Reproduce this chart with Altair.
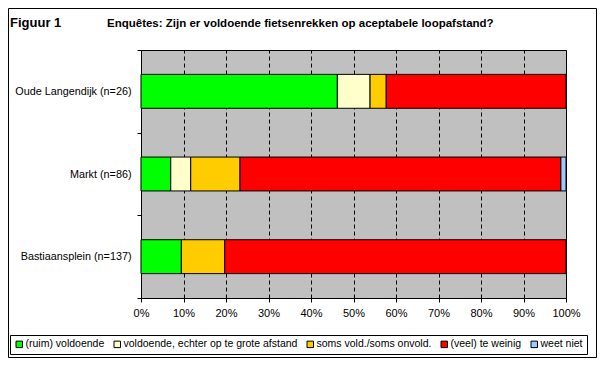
import altair as alt
import pandas as pd

# ---- data ----
locations = ["Oude Langendijk (n=26)", "Markt (n=86)", "Bastiaansplein (n=137)"]
answers = [
    "(ruim) voldoende",
    "voldoende, echter op te grote afstand",
    "soms vold./soms onvold.",
    "(veel) te weinig",
    "weet niet",
]
colors = ["#00FF00", "#FFFFCC", "#FFCC00", "#FF0000", "#99CCFF"]
pct_oude = [46.2, 7.7, 3.8, 42.3, 0.0]
pct_markt = [7.0, 4.7, 11.6, 75.5, 1.2]
pct_bastiaan = [9.5, 0.0, 10.2, 80.3, 0.0]
tick_values = [0.0, 0.1, 0.2, 0.3, 0.4, 0.5, 0.6, 0.7, 0.8, 0.9, 1.0]
fig_label = "Figuur 1"
title_text = "Enquêtes: Zijn er voldoende fietsenrekken op aceptabele loopafstand?"

rows = []
for loc, vals in zip(locations, [pct_oude, pct_markt, pct_bastiaan]):
    for i, (a, v) in enumerate(zip(answers, vals)):
        if v > 0:
            rows.append({"loc": loc, "answer": a, "order": i, "pct": v})
df = pd.DataFrame(rows)

FONT = "Arial, Liberation Sans, sans-serif"

bars = alt.Chart(df).mark_bar(
    stroke="black", strokeWidth=1, height=alt.RelativeBandSize(0.41)
).encode(
    x=alt.X(
        "pct:Q",
        stack="normalize",
        scale=alt.Scale(domain=[0, 1]),
        axis=alt.Axis(
            title=None, format="%", values=tick_values, grid=True,
            gridColor="black", gridDash=[4, 3], gridWidth=1, gridOpacity=1,
            domain=False, tickSize=4, tickColor="black", labelPadding=5,
            labelFontSize=11, labelFont=FONT, labelColor="black",
            labelFlush=False, labelOverlap=False,
        ),
    ),
    y=alt.Y(
        "loc:N",
        sort=locations,
        scale=alt.Scale(paddingInner=0, paddingOuter=0),
        axis=alt.Axis(
            title=None, tickBand="extent", tickSize=4, tickColor="black",
            domain=False, grid=False, labelPadding=6, labelFontSize=10.8,
            labelFont=FONT, labelColor="black", labelLimit=300,
        ),
    ),
    color=alt.Color(
        "answer:N",
        scale=alt.Scale(domain=answers, range=colors),
        legend=alt.Legend(
            title=None, orient="none", direction="horizontal", columns=5,
            legendX=-131, legendY=285, symbolType="square", symbolSize=42,
            symbolStrokeColor="black", symbolStrokeWidth=1, symbolOpacity=1,
            labelFontSize=10.5, labelFont=FONT, labelColor="black",
            labelOffset=1, columnPadding=7, padding=4, strokeColor="black",
            fillColor="white", labelLimit=400,
        ),
    ),
    order=alt.Order("order:Q"),
)

tdf = pd.DataFrame({"t": [fig_label], "s": [title_text]})

fig_txt = alt.Chart(tdf).mark_text(
    align="left", baseline="alphabetic", font=FONT, fontSize=13,
    fontWeight="bold", color="black",
).encode(x=alt.value(-131), y=alt.value(-23), text=alt.Text("t:N"))

title_txt = alt.Chart(tdf).mark_text(
    align="left", baseline="alphabetic", font=FONT, fontSize=11.5,
    fontWeight="bold", color="black",
).encode(x=alt.value(-34), y=alt.value(-23), text=alt.Text("s:N"))

frame = alt.Chart(tdf).mark_rect(
    filled=False, stroke="black", strokeWidth=1
).encode(
    x=alt.value(-132.5), x2=alt.value(455.5),
    y=alt.value(-41.5), y2=alt.value(307.5),
)

chart = alt.layer(bars, fig_txt, title_txt, frame).properties(
    width=425,
    height=248,
    autosize=alt.AutoSizeParams(type="none"),
    padding={"left": 133, "top": 42, "right": 31, "bottom": 60},
    background="white",
).configure_view(
    fill="#C0C0C0", stroke="black", strokeWidth=1
)

chart.save("out.html", embed_options={"renderer": "svg", "actions": False})
